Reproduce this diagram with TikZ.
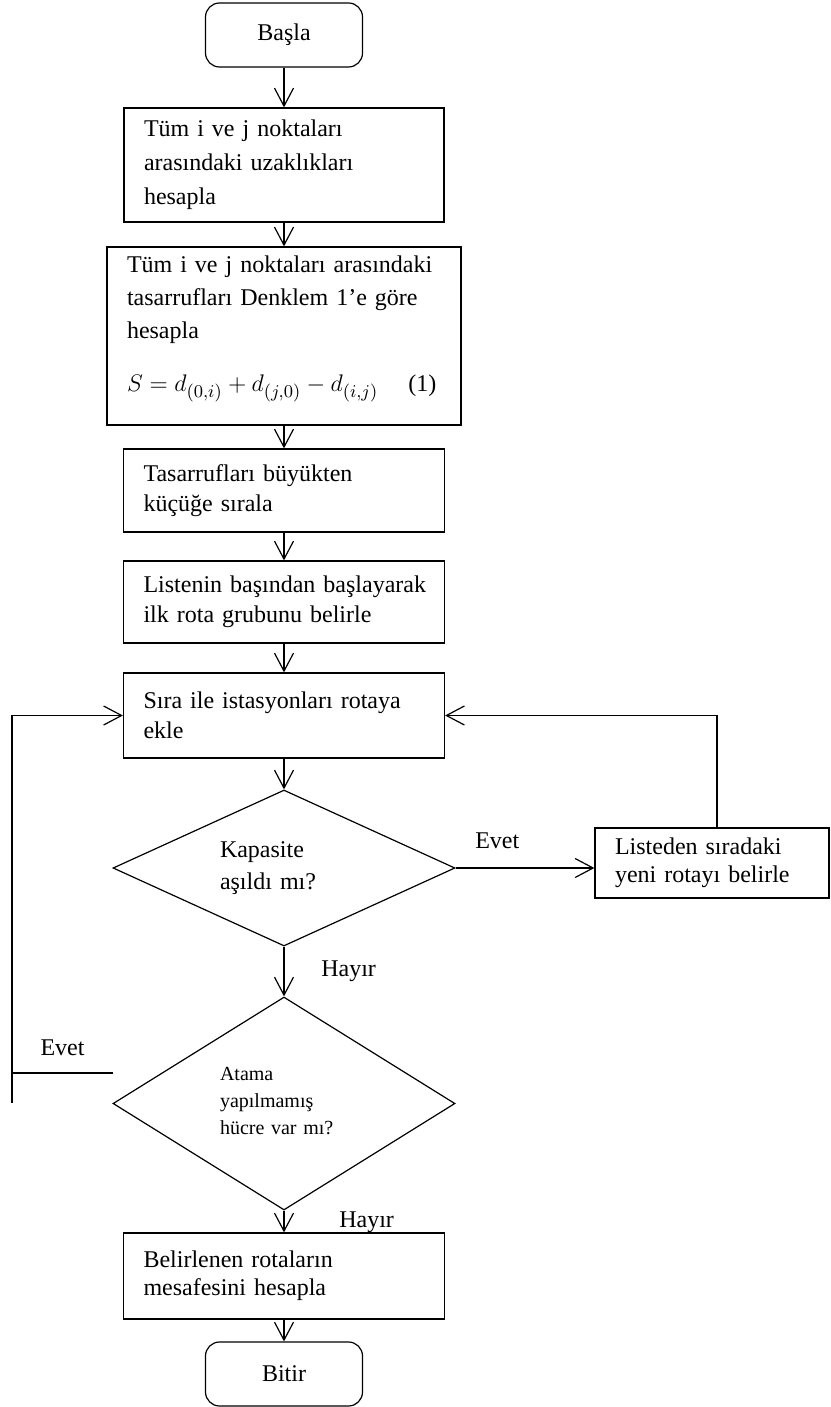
\documentclass[tikz,border=0pt]{standalone}
\usepackage{fontspec}
\setmainfont{Liberation Serif}
\usetikzlibrary{shapes.geometric,arrows.meta}

\tikzset{
  kutu/.style={draw, rectangle, align=left, inner xsep=10pt, inner ysep=2pt, line width=0.6pt, font=\fontsize{12}{15}\selectfont},
  basbit/.style={draw, rounded corners=7pt, minimum width=78.5pt, minimum height=32pt, line width=0.6pt, font=\fontsize{12}{15}\selectfont},
  karar/.style={draw, diamond, align=left, text width=64pt, inner sep=0pt, minimum width=171pt, line width=0.6pt},
  ok/.style={-{Straight Barb[length=9pt,width=9.5pt]}, line width=0.6pt},
  etiket/.style={font=\fontsize{12}{15}\selectfont}
}

\begin{document}
\begin{tikzpicture}[x=0.5pt, y=-0.5pt]
	\useasboundingbox (0,0) rectangle (830,1407);
	% ana kolon
	\node[basbit] (basla) at (284,35) {Başla};
	\node[kutu, text width=140pt, minimum height=57pt, font=\fontsize{12}{17}\selectfont] (uzak) at (284,165) {Tüm i ve j noktaları\\ arasındaki uzaklıkları\\ hesapla};
	\node[kutu, text width=157pt, minimum height=89pt, font=\fontsize{12}{16.5}\selectfont] (tasarruf) at (284,336) {Tüm i ve j noktaları arasındaki\\ tasarrufları Denklem 1’e göre\\ hesapla\\[10pt] \fontsize{13}{16}\selectfont$S = d_{(0,i)} + d_{(j,0)} - d_{(i,j)}$\hspace{15pt}\fontsize{12}{16}\selectfont(1)\rule[-12pt]{0pt}{1pt}};
	\node[kutu, text width=140.5pt, minimum height=41.5pt] (sirala) at (284,490.5) {Tasarrufları büyükten\\ küçüğe sırala};
	\node[kutu, text width=140.5pt, minimum height=41pt] (liste) at (284,602) {\mbox{Listenin başından başlayarak}\\ ilk rota grubunu belirle};
	\node[kutu, text width=140.5pt, minimum height=42.5pt] (ekle) at (284,715.5) {Sıra ile istasyonları rotaya\\ ekle};
	% kararlar
	\node[karar, shape aspect=2.2, minimum height=78pt, font=\fontsize{12}{16}\selectfont] (kapasite) at (284,868) {Kapasite\\ aşıldı mı?};
	\node[kutu, text width=97pt, minimum height=35pt, inner ysep=1pt, font=\fontsize{12}{14}\selectfont] (yeni) at (712,863) {Listeden sıradaki\\ yeni rotayı belirle};
	\node[karar, shape aspect=1.6, minimum height=106.5pt, font=\fontsize{10}{13.5}\selectfont] (atama) at (284,1103.5) {Atama\\ yapılmamış\\ hücre var mı?\rule[-3pt]{0pt}{1pt}};
	% son
	\node[kutu, text width=140.5pt, minimum height=43pt, font=\fontsize{12}{14}\selectfont] (mesafe) at (284,1276) {Belirlenen rotaların\\ mesafesini hesapla};
	\node[basbit] (bitir) at (284,1374) {Bitir};

	% oklar
	\draw[ok] (basla) -- (uzak);
	\draw[ok] (uzak) -- (tasarruf);
	\draw[ok] (tasarruf) -- (sirala);
	\draw[ok] (sirala) -- (liste);
	\draw[ok] (liste) -- (ekle);
	\draw[ok] (ekle) -- (kapasite);
	\draw[ok] (kapasite) -- node[right=15pt, etiket] (hayir1) {Hayır} (atama);
	\draw[ok] (atama) -- node[right=24pt, yshift=-0.5pt, etiket] (hayir2) {Hayır} (mesafe);
	\draw[ok] (mesafe) -- (bitir);
	\draw[ok] (kapasite.east) -- node[pos=0.3, above=6pt, etiket] (evet1) {Evet} (kapasite.east -| yeni.west);
	\draw[ok] ([xshift=2.5pt]yeni.north) |- (ekle.east);
	% sol dongu
	\coordinate (evetuc) at (113,1073);
	\coordinate (dongualt) at (12,1103);
	\draw[line width=0.6pt] (evetuc) -- node[above=5pt, etiket] (evet2) {Evet} (evetuc -| dongualt);
	\draw[ok] (dongualt) |- (ekle.west);
\end{tikzpicture}
\end{document}
